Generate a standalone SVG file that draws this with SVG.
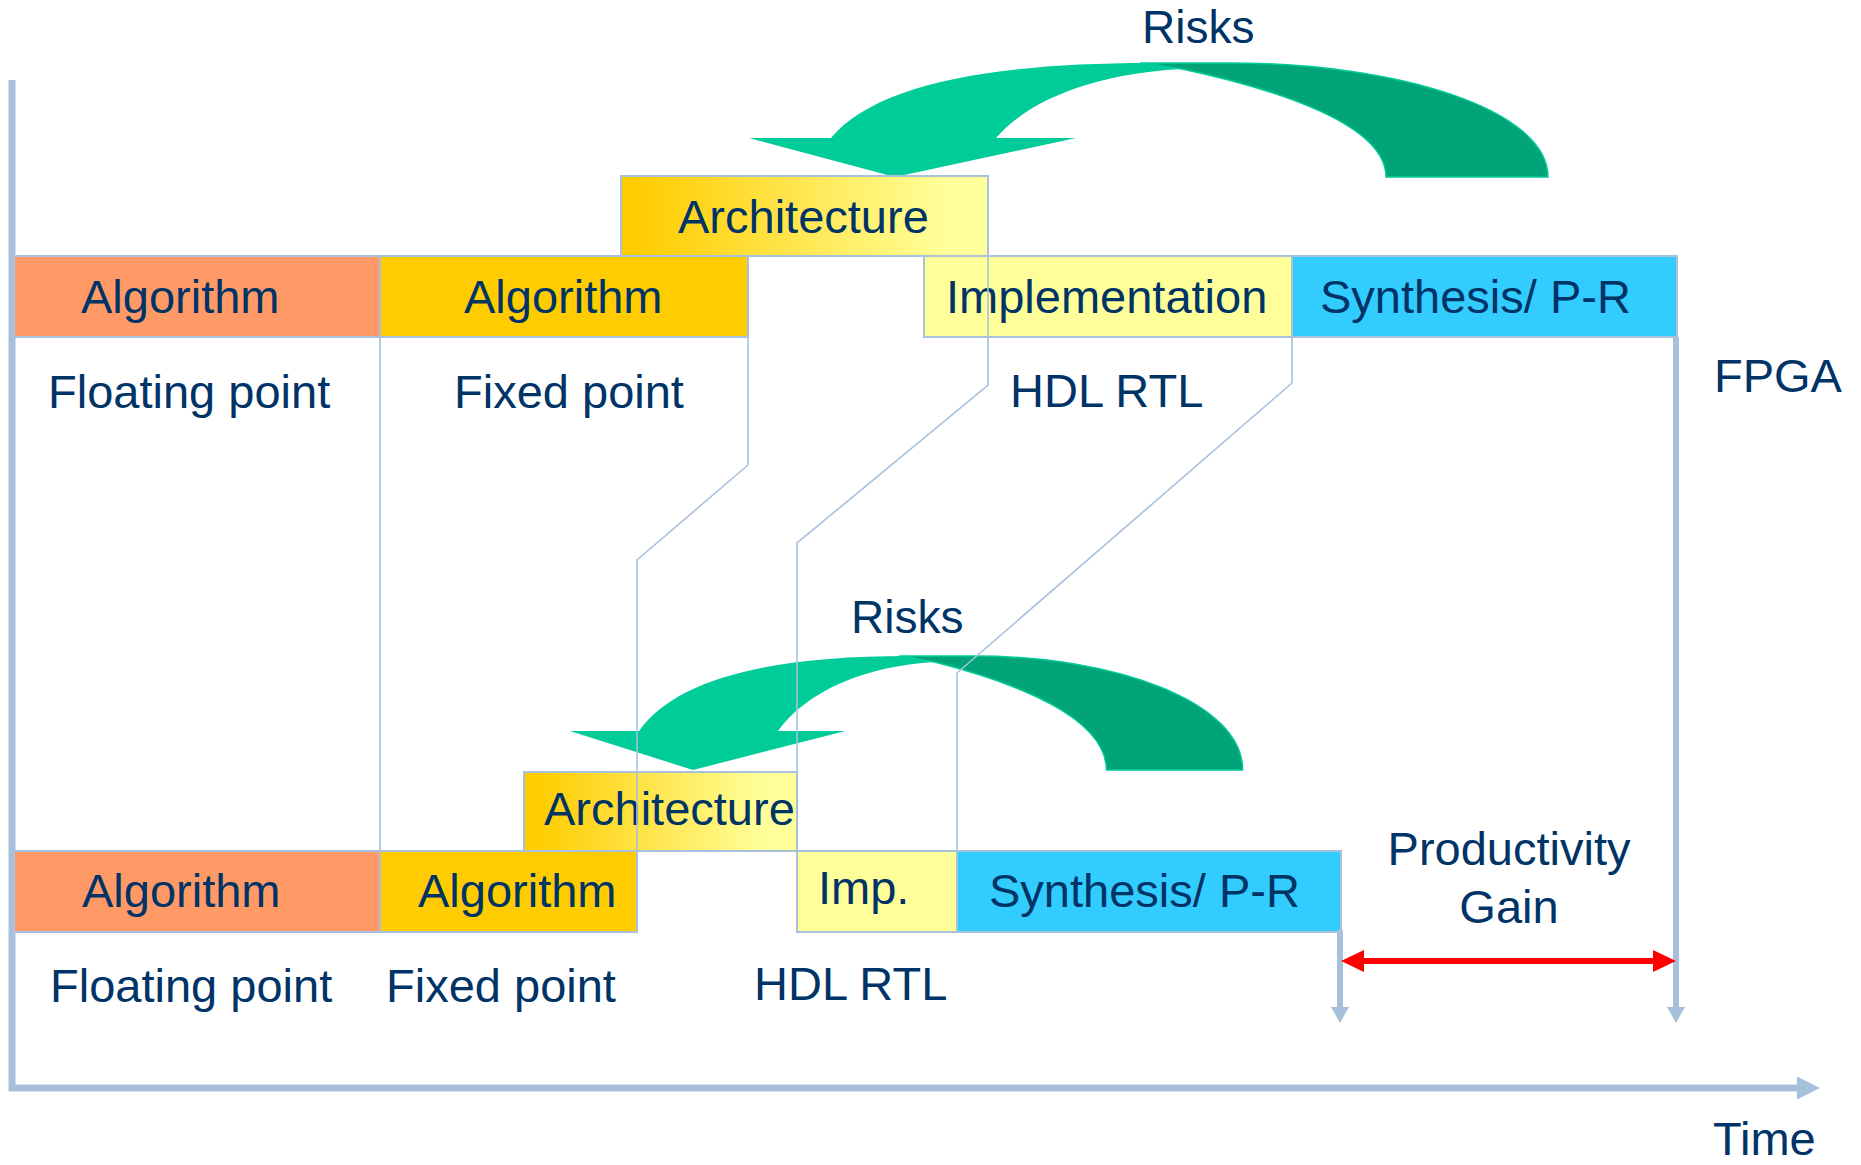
<svg xmlns="http://www.w3.org/2000/svg" xmlns:xlink="http://www.w3.org/1999/xlink" width="1861" height="1165" viewBox="0 0 1861 1165">
  <style>
    .t { font-family: "Liberation Sans", Arial, sans-serif; font-size: 47px; fill: #003366; }
    .risk { font-size: 46px; }
    .box { stroke: #A9C1DD; stroke-width: 2; }
    .orange { fill: #FF9966; }
    .gold { fill: #FFCC00; }
    .pale { fill: #FFFF99; }
    .cyan { fill: #33CCFF; }
    .arch { fill: url(#archGrad); }
    .conn { fill: none; stroke: #A9C1DD; stroke-width: 1.6; }
    .axis { fill: none; stroke: #A7C0DC; stroke-width: 7; }
    .drop { fill: none; stroke: #A7C0DC; stroke-width: 6; }
    .gain { fill: none; stroke: #FF0000; stroke-width: 6; }
    .front { fill: #00CC99; }
    .back { fill: #00A478; stroke: #00CC99; stroke-width: 1.5; }
  </style>
  <defs>
    <linearGradient id="archGrad" x1="0" y1="0" x2="1" y2="0">
      <stop offset="0.05" stop-color="#FFCC00"/>
      <stop offset="0.88" stop-color="#FFFF99"/>
    </linearGradient>
    <marker id="axisHead" markerUnits="userSpaceOnUse" markerWidth="24" markerHeight="24" refX="0" refY="11.5" orient="auto" viewBox="0 0 24 24">
      <path d="M0,0 L23,11.5 L0,23 Z" fill="#A7C0DC"/>
    </marker>
    <marker id="dropHead" markerUnits="userSpaceOnUse" markerWidth="17" markerHeight="18" refX="0" refY="9" orient="auto" viewBox="0 0 17 18">
      <path d="M0,0 L16,9 L0,18 Z" fill="#A7C0DC"/>
    </marker>
    <marker id="gainHead" markerUnits="userSpaceOnUse" markerWidth="24" markerHeight="22" refX="0" refY="11" orient="auto-start-reverse" viewBox="0 0 24 22">
      <path d="M0,0 L23,11 L0,22 Z" fill="#FF0000"/>
    </marker>
    <!-- curved "risk" arrow: back band and front band with head -->
    <path id="riskBack" d="M1140,63 L1230,63 C1400,63 1548,110 1548,177 L1386,177 C1386,125 1280,90 1182,69 Z"/>
    <path id="riskFront" d="M749,138 L831,138 C875,85 990,63 1150,63 L1182,69 C1100,73 1030,98 996,138 L1076,138 L895,177 Z"/>
  </defs>

  <!-- axes -->
  <g id="axes">
    <line class="axis" x1="12" y1="80" x2="12" y2="1091"/>
    <line class="axis" x1="9" y1="1088" x2="1797" y2="1088" marker-end="url(#axisHead)"/>
    <text class="t" x="1713" y="1155">Time</text>
  </g>

  <!-- risk arrows -->
  <g id="risks-top">
    <use href="#riskBack" class="back"/>
    <use href="#riskFront" class="front"/>
    <text class="t risk" x="1142" y="43">Risks</text>
  </g>
  <g id="risks-bottom">
    <g transform="translate(570,656) scale(0.842,1) translate(-749,-63)">
      <use href="#riskBack" class="back"/>
      <use href="#riskFront" class="front"/>
    </g>
    <text class="t risk" x="851" y="633">Risks</text>
  </g>

  <!-- upper flow -->
  <g id="arch-top">
    <rect class="box arch" x="621" y="176" width="367" height="80"/>
    <text class="t" x="678" y="233">Architecture</text>
  </g>
  <g id="alg-float-top">
    <rect class="box orange" x="14" y="256" width="366" height="81"/>
    <text class="t" x="81" y="313">Algorithm</text>
    <text class="t" x="48" y="408">Floating point</text>
  </g>
  <g id="alg-fixed-top">
    <rect class="box gold" x="380" y="256" width="368" height="81"/>
    <text class="t" x="464" y="313">Algorithm</text>
    <text class="t" x="454" y="408">Fixed point</text>
  </g>
  <g id="impl-top">
    <rect class="box pale" x="924" y="256" width="368" height="81"/>
    <text class="t" x="946" y="313">Implementation</text>
    <text class="t" x="1010" y="407">HDL RTL</text>
  </g>
  <g id="synth-top">
    <rect class="box cyan" x="1292" y="256" width="385" height="81"/>
    <text class="t" x="1320" y="313">Synthesis/ P-R</text>
    <text class="t" x="1714" y="392">FPGA</text>
  </g>

  <!-- lower flow -->
  <g id="arch-bottom">
    <rect class="box arch" x="524" y="772" width="273" height="79"/>
    <text class="t" x="544" y="825">Architecture</text>
  </g>
  <g id="alg-float-bottom">
    <rect class="box orange" x="14" y="851" width="366" height="81"/>
    <text class="t" x="82" y="907">Algorithm</text>
    <text class="t" x="50" y="1002">Floating point</text>
  </g>
  <g id="alg-fixed-bottom">
    <rect class="box gold" x="380" y="851" width="257" height="81"/>
    <text class="t" x="418" y="907">Algorithm</text>
    <text class="t" x="386" y="1002">Fixed point</text>
  </g>
  <g id="impl-bottom">
    <rect class="box pale" x="797" y="851" width="160" height="81"/>
    <text class="t" x="818" y="904">Imp.</text>
    <text class="t" x="754" y="1000">HDL RTL</text>
  </g>
  <g id="synth-bottom">
    <rect class="box cyan" x="957" y="851" width="384" height="81"/>
    <text class="t" x="989" y="907">Synthesis/ P-R</text>
  </g>

  <!-- productivity gain -->
  <g id="gain">
    <line class="drop" x1="1676" y1="337" x2="1676" y2="1007" marker-end="url(#dropHead)"/>
    <line class="drop" x1="1340" y1="930" x2="1340" y2="1007" marker-end="url(#dropHead)"/>
    <line class="gain" x1="1364" y1="961" x2="1653" y2="961" marker-start="url(#gainHead)" marker-end="url(#gainHead)"/>
    <text class="t" x="1509" y="865" text-anchor="middle">Productivity</text>
    <text class="t" x="1509" y="923" text-anchor="middle">Gain</text>
  </g>

  <!-- phase boundary connectors between the two flows -->
  <g id="connectors">
    <polyline class="conn" points="380,337 380,851"/>
    <polyline class="conn" points="748,337 748,465 637,560 637,851"/>
    <polyline class="conn" points="988,256 988,385 797,543 797,851"/>
    <polyline class="conn" points="1292,337 1292,383 957,673 957,851"/>
  </g>
</svg>
